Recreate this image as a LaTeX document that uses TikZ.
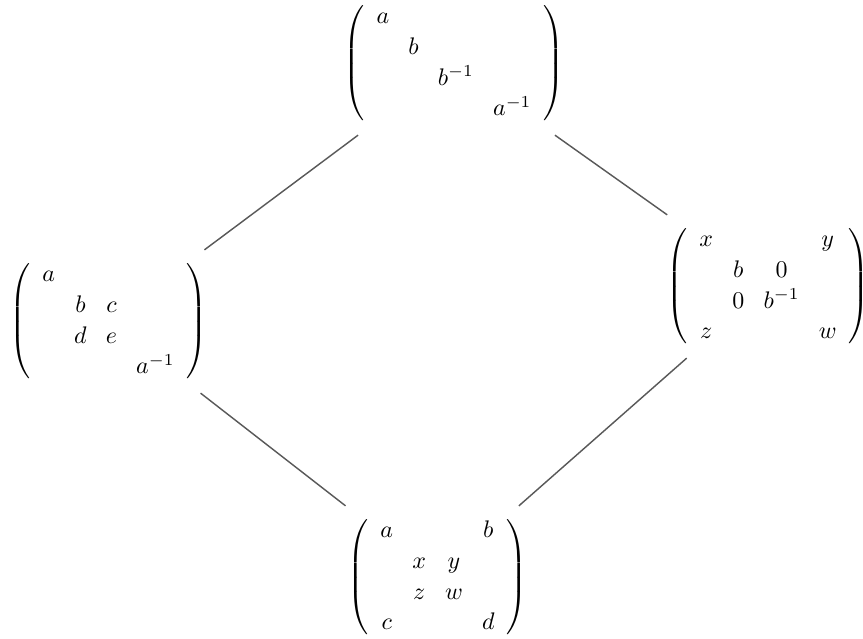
\documentclass[tikz,border=0pt]{standalone}
\usepackage{amsmath}
\newcommand{\mymat}[1]{\renewcommand{\arraystretch}{1.07}\left(\begin{array}{@{\hspace{5pt}}c@{\hspace{8pt}}c@{\hspace{8pt}}c@{\hspace{8pt}}c@{\hspace{5pt}}}#1\end{array}\right)}
\begin{document}
\begin{tikzpicture}[x=0.417pt,y=-0.417pt,
  mat/.style={inner sep=0pt, outer sep=4.2pt},
  conn/.style={draw=black!65, line width=0.6pt}]
\useasboundingbox (0,0) rectangle (863,639);
\node[mat] (top) at (454,63.5) {$\mymat{ a &&& \\ & b && \\ && b^{-1} & \\ &&& a^{-1}}$};
\node[mat] (left) at (108.5,321.5) {$\mymat{ a &&& \\ & b & c & \\ & d & e & \\ &&& a^{-1}}$};
\node[mat] (right) at (768,286.5) {$\mymat{ x &&& y \\ & b & 0 & \\ & 0 & b^{-1} & \\ z &&& w}$};
\node[mat] (bot) at (437.5,577.5) {$\mymat{ a &&& b \\ & x & y & \\ & z & w & \\ c &&& d}$};
\draw[conn] (top) -- (left);
\draw[conn] (top) -- (right);
\draw[conn] (left) -- (bot);
\draw[conn] (right) -- (bot);
\end{tikzpicture}
\end{document}
